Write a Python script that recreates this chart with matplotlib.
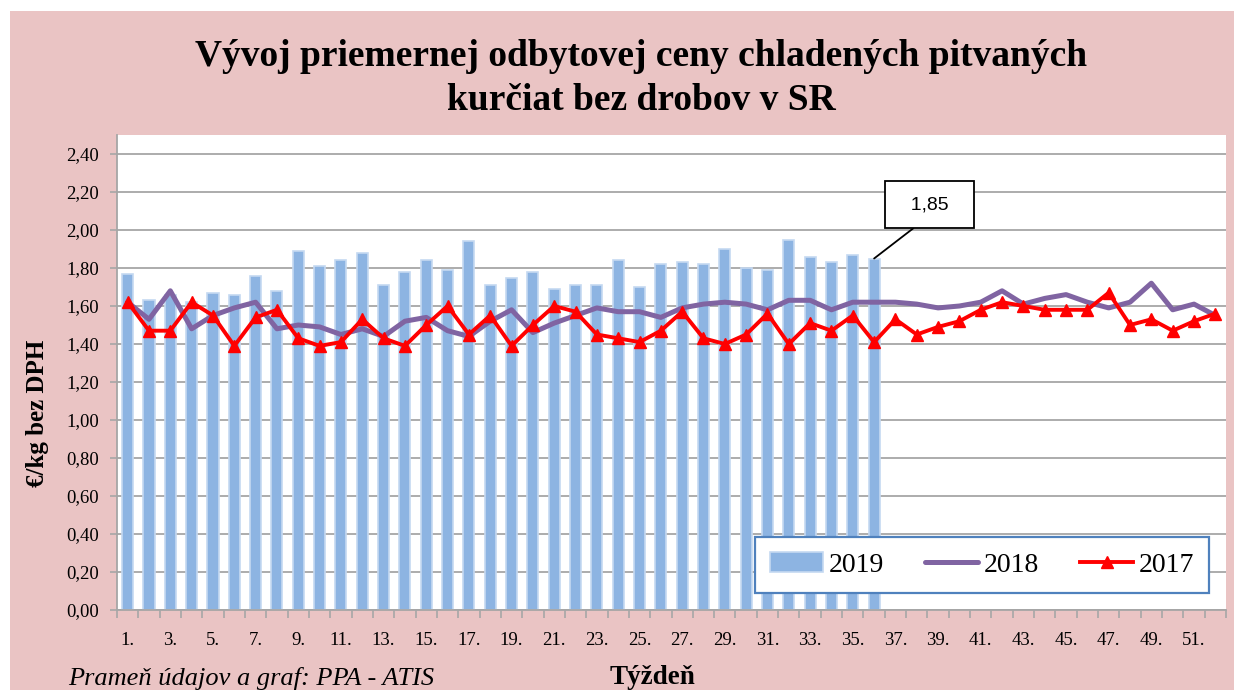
import matplotlib.pyplot as plt
import numpy as np
from matplotlib.patches import Rectangle

weeks = np.arange(1, 53)
week_labels = [str(w) + '.' for w in weeks]

# 2019 - stlpce (tyzden 1-36)
y2019 = [1.77, 1.63, 1.66, 1.62, 1.67, 1.66, 1.76, 1.68, 1.89, 1.81,
         1.84, 1.88, 1.71, 1.78, 1.84, 1.79, 1.94, 1.71, 1.75, 1.78,
         1.69, 1.71, 1.71, 1.84, 1.70, 1.82, 1.83, 1.82, 1.90, 1.80,
         1.79, 1.95, 1.86, 1.83, 1.87, 1.85]

y2018 = [1.62, 1.53, 1.68, 1.48, 1.55, 1.59, 1.62, 1.48, 1.50, 1.49,
         1.45, 1.48, 1.44, 1.52, 1.54, 1.47, 1.44, 1.52, 1.58, 1.46,
         1.51, 1.55, 1.59, 1.57, 1.57, 1.54, 1.59, 1.61, 1.62, 1.61,
         1.58, 1.63, 1.63, 1.58, 1.62, 1.62, 1.62, 1.61, 1.59, 1.60,
         1.62, 1.68, 1.61, 1.64, 1.66, 1.62, 1.59, 1.62, 1.72, 1.58,
         1.61, 1.55]

y2017 = [1.62, 1.47, 1.47, 1.62, 1.55, 1.39, 1.54, 1.58, 1.43, 1.39,
         1.41, 1.53, 1.43, 1.39, 1.50, 1.60, 1.45, 1.55, 1.39, 1.50,
         1.60, 1.57, 1.45, 1.43, 1.41, 1.47, 1.57, 1.43, 1.40, 1.45,
         1.56, 1.40, 1.51, 1.47, 1.55, 1.41, 1.53, 1.45, 1.49, 1.52,
         1.58, 1.62, 1.60, 1.58, 1.58, 1.58, 1.67, 1.50, 1.53, 1.47,
         1.52, 1.56]

serif = ['Liberation Serif', 'DejaVu Serif']
pink = '#EAC4C4'
grid_c = '#A6A6A6'

fig = plt.figure(figsize=(12.34, 6.9), dpi=100)
fig.patch.set_facecolor('white')
fig.patches.append(Rectangle((10 / 1234, 0), 1, 1 - 11 / 690, transform=fig.transFigure,
                             facecolor=pink, edgecolor='none', zorder=-10))

ax = fig.add_axes([117 / 1234, 80 / 690, 1109 / 1234, 475 / 690])
ax.set_facecolor('white')

x = np.arange(len(weeks))
b = ax.bar(x[:len(y2019)], y2019, width=0.52, color='#8DB4E2', edgecolor='#C5D9F1',
           linewidth=1.2, label='2019', zorder=2)
l1, = ax.plot(x, y2018, color='#8064A2', lw=3.6, label='2018', zorder=3,
              solid_capstyle='round')
l2, = ax.plot(x, y2017, color='#FF0000', lw=2.8, marker='^', ms=8, label='2017', zorder=4)

ax.set_xlim(-0.5, len(weeks) - 0.5)
ax.set_ylim(0, 2.5)
yt = np.arange(0, 2.41, 0.2)
ax.set_yticks(yt)
ax.set_yticklabels([f'{v:.2f}'.replace('.', ',') for v in yt], family=serif, fontsize=13.5)
ax.yaxis.grid(True, color=grid_c, lw=1.3, zorder=0)
ax.set_axisbelow(True)

ax.set_xticks(x[::2])
ax.set_xticklabels(week_labels[::2], family=serif, fontsize=13.5)
ax.set_xticks(np.arange(-0.5, len(weeks)), minor=True)
ax.tick_params(axis='x', which='major', length=0, pad=16)
ax.tick_params(axis='x', which='minor', length=6, color=grid_c, width=1.2, direction='out')
ax.tick_params(axis='y', length=5, color=grid_c, width=1.2, pad=8)

for s in ['top', 'right']:
    ax.spines[s].set_visible(False)
for s in ['left', 'bottom']:
    ax.spines[s].set_color(grid_c)
    ax.spines[s].set_linewidth(1.3)

# popis poslednej hodnoty
ax.annotate('  1,85  ', xy=(35, y2019[35]), xytext=(37.6, 2.134),
            fontsize=14, family=['Liberation Sans'], ha='center', va='center',
            bbox=dict(boxstyle='square,pad=0.75', fc='white', ec='black', lw=1.3),
            arrowprops=dict(arrowstyle='-', color='black', lw=1.3,
                            shrinkA=0, shrinkB=0, relpos=(0.56, 0)))

leg = ax.legend([b, l1, l2], ['2019', '2018', '2017'], loc='center',
                bbox_to_anchor=(0.575, 0.034, 0.41, 0.122), mode='expand',
                ncol=3, prop={'family': serif, 'size': 20}, frameon=True, fancybox=False,
                handlelength=1.9, handletextpad=0.2, borderpad=0.55, columnspacing=1.0,
                borderaxespad=0)
leg.get_frame().set_edgecolor('#4F81BD')
leg.get_frame().set_linewidth(1.6)
leg.get_frame().set_alpha(1)

fig.text(38 / 1234, 1 - 413 / 690, '€/kg bez DPH', rotation=90, ha='center', va='center',
         family=serif, fontsize=18, fontweight='bold')

fig.text(641 / 1234, 1 - 66 / 690, 'Vývoj priemernej odbytovej ceny chladených pitvaných',
         ha='center', va='baseline', family=serif, fontsize=27, fontweight='bold')
fig.text(641 / 1234, 1 - 110 / 690, 'kurčiat bez drobov v SR',
         ha='center', va='baseline', family=serif, fontsize=27, fontweight='bold')

fig.text(68 / 1234, 1 - 678 / 690, 'Prameň údajov a graf: PPA - ATIS', ha='left', va='center',
         family=serif, fontsize=19, style='italic')
fig.text(652 / 1234, 1 - 678 / 690, 'Týždeň', ha='center', va='center',
         family=serif, fontsize=19.5, fontweight='bold')

fig.savefig('out.png', dpi=100, facecolor=fig.get_facecolor())
